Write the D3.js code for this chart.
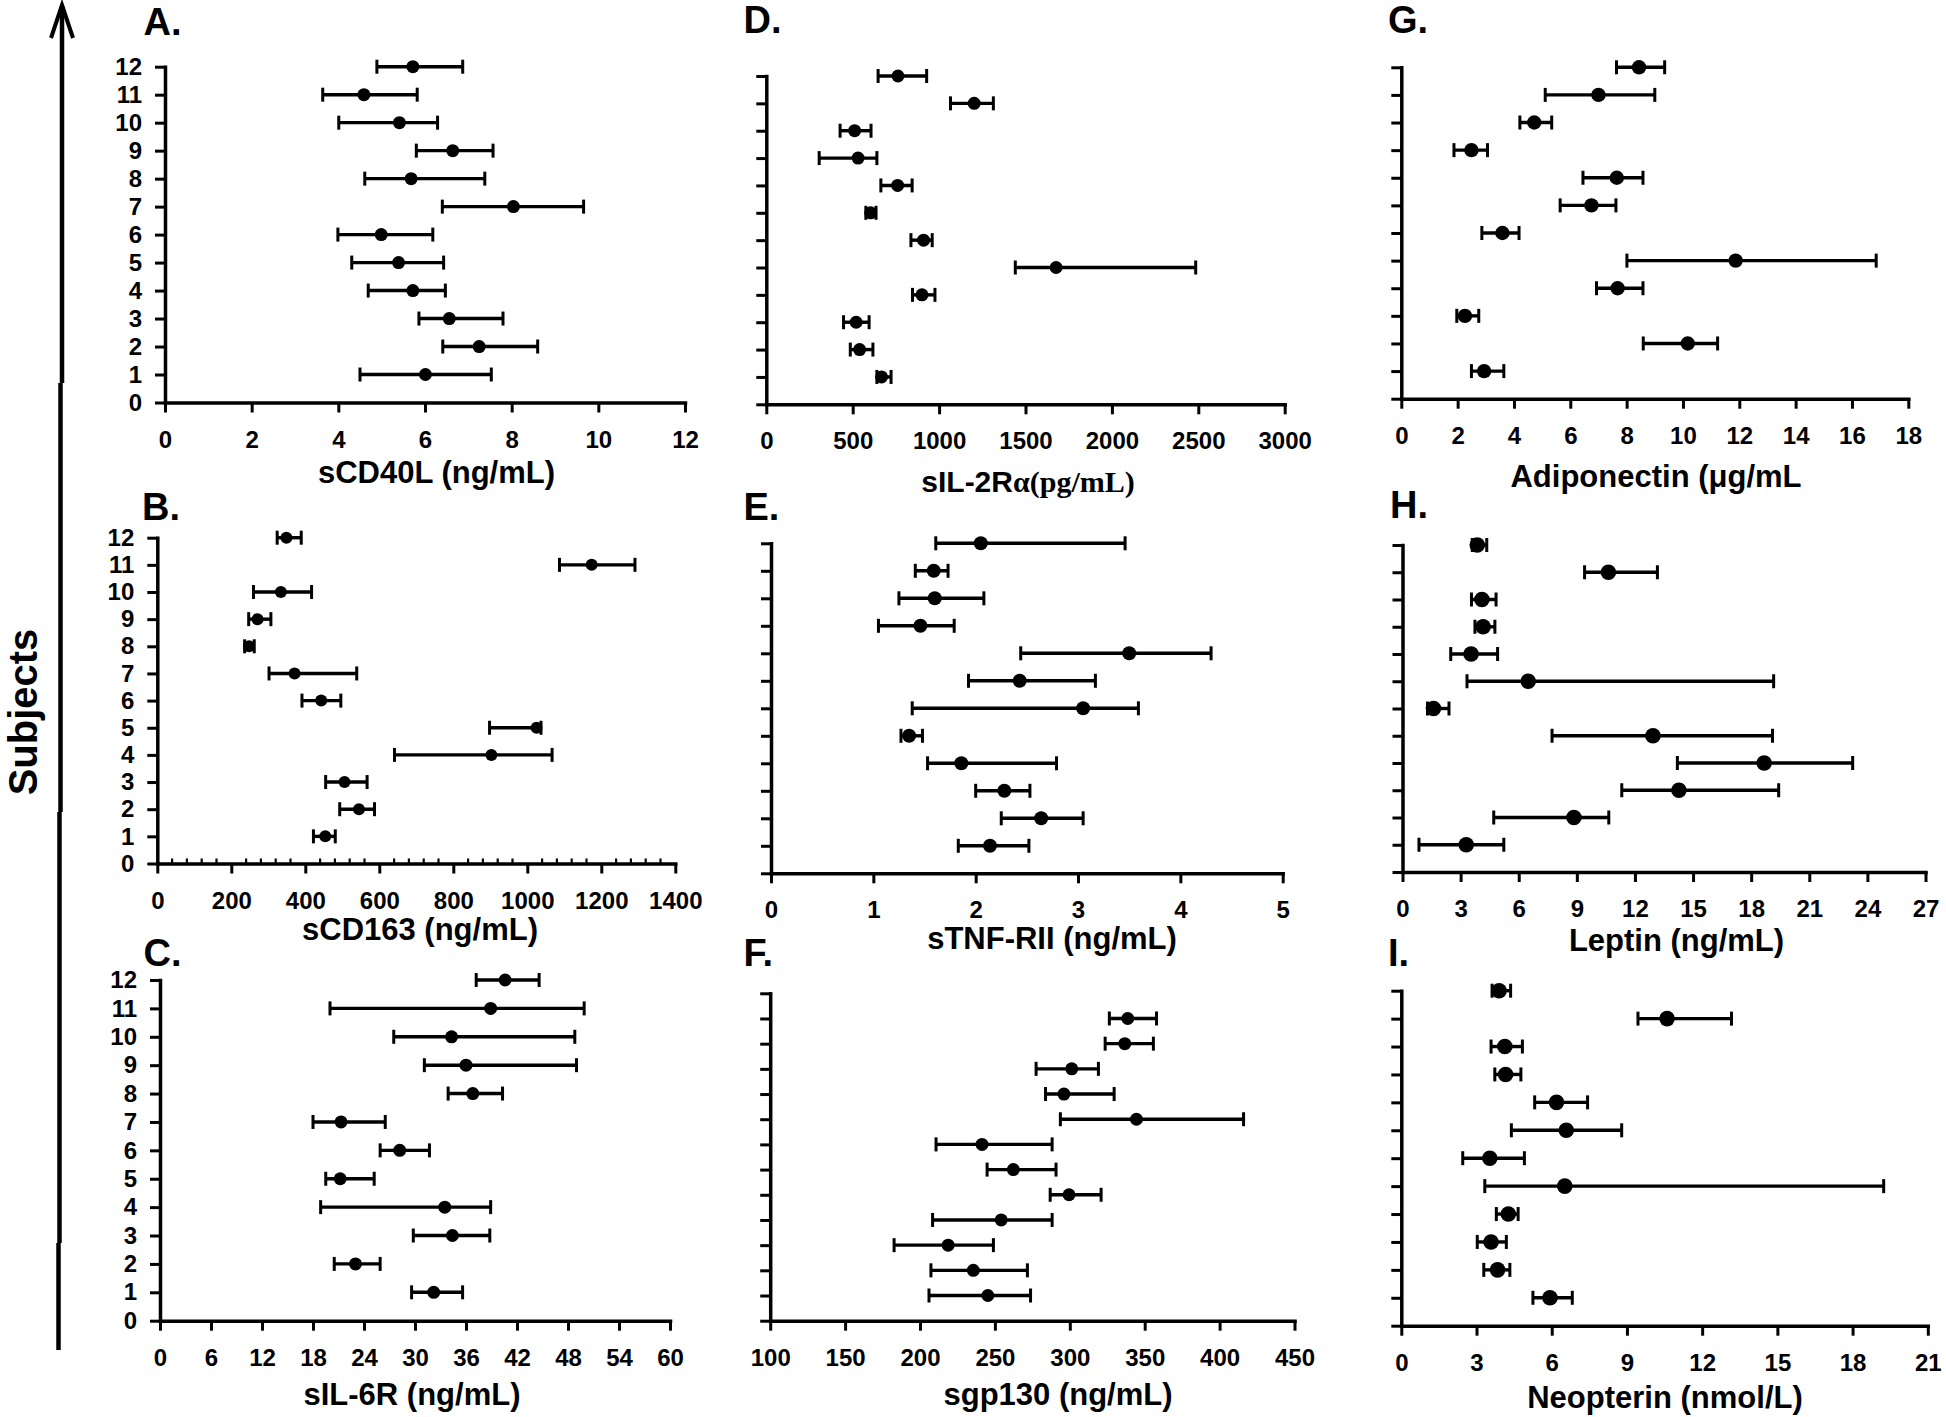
<!DOCTYPE html>
<html>
<head>
<meta charset="utf-8">
<script src="https://cdn.jsdelivr.net/npm/d3@7"></script>
<style>
  html, body { margin: 0; padding: 0; background: #fff; }
  svg text { font-family: "Liberation Sans", Arial, sans-serif; font-weight: bold; fill: #000; }
</style>
</head>
<body>
<svg id="chart" width="1946" height="1417"></svg>
<script>
// ---------------- DATA (subjects 1..12) ----------------
const subjects = [1,2,3,4,5,6,7,8,9,10,11,12];

const sCD40L_mean = [6.01, 7.25, 6.56, 5.72, 5.39, 4.99, 8.04, 5.68, 6.64, 5.41, 4.59, 5.72];
const sCD40L_lo   = [4.50, 6.41, 5.86, 4.69, 4.31, 3.99, 6.40, 4.61, 5.80, 4.01, 3.64, 4.89];
const sCD40L_hi   = [7.53, 8.60, 7.80, 6.47, 6.43, 6.18, 9.66, 7.38, 7.57, 6.29, 5.82, 6.87];

const sCD163_mean = [454, 545, 506, 903, 1025, 443, 371, 248, 271, 334, 1174, 349];
const sCD163_lo   = [422, 493, 455, 641,  898, 391, 302, 236, 247, 260, 1087, 324];
const sCD163_hi   = [481, 587, 567, 1067, 1037, 496, 539, 262, 307, 417, 1291, 389];

const sIL6R_mean = [32.2, 23.0, 34.4, 33.5, 21.2, 28.2, 21.3, 36.8, 36.0, 34.3, 38.9, 40.6];
const sIL6R_lo   = [29.6, 20.5, 29.8, 18.9, 19.5, 25.9, 18.0, 33.9, 31.1, 27.5, 20.0, 37.2];
const sIL6R_hi   = [35.6, 25.9, 38.8, 38.9, 25.2, 31.7, 26.5, 40.3, 49.0, 48.8, 49.9, 44.6];

const sIL2Ra_mean = [667, 540, 520, 901, 1677, 910, 604, 760, 531, 511, 1203, 762];
const sIL2Ra_lo   = [640, 486, 447, 846, 1441, 837, 576, 663, 306, 427, 1066, 647];
const sIL2Ra_hi   = [722, 617, 595, 976, 2485, 960, 635, 844, 640, 606, 1314, 928];

const sTNFRII_mean = [2.14, 2.64, 2.28, 1.86, 1.35, 3.05, 2.43, 3.50, 1.46, 1.60, 1.59, 2.05];
const sTNFRII_lo   = [1.83, 2.25, 2.00, 1.53, 1.27, 1.38, 1.93, 2.44, 1.05, 1.25, 1.41, 1.61];
const sTNFRII_hi   = [2.52, 3.05, 2.53, 2.79, 1.48, 3.59, 3.17, 4.30, 1.79, 2.08, 1.73, 3.46];

const sgp130_mean = [245.3, 235.6, 218.8, 254.2, 299.5, 262.3, 241.4, 344.5, 296.1, 301.3, 336.7, 338.7];
const sgp130_lo   = [206.0, 207.3, 182.7, 208.4, 286.9, 244.8, 210.7, 293.7, 283.8, 277.5, 323.6, 326.4];
const sgp130_hi   = [273.8, 271.7, 249.0, 288.2, 320.9, 290.8, 288.2, 416.0, 329.6, 319.1, 355.8, 357.9];

const adipo_mean = [2.94, 10.17, 2.26, 7.68, 11.87, 3.59, 6.75, 7.65, 2.49, 4.72, 7.00, 8.44];
const adipo_lo   = [2.49,  8.59, 1.97, 6.93,  8.01, 2.86, 5.64, 6.45, 1.87, 4.21, 5.11, 7.64];
const adipo_hi   = [3.64, 11.23, 2.75, 8.58, 16.86, 4.18, 7.62, 8.58, 3.06, 5.34, 9.00, 9.35];

const leptin_mean = [3.29, 8.85, 14.27, 18.67, 12.93, 1.60, 6.49, 3.54, 4.16, 4.10, 10.63, 3.86];
const leptin_lo   = [0.85, 4.71, 11.32, 14.19,  7.72, 1.29, 3.33, 2.49, 3.74, 3.56,  9.40, 3.60];
const leptin_hi   = [5.23, 10.65, 19.42, 23.24, 19.10, 2.40, 19.16, 4.91, 4.77, 4.83, 13.16, 4.35];

const neop_mean = [5.93, 3.84, 3.58, 4.27, 6.52, 3.53, 6.58, 6.19, 4.16, 4.13, 10.60, 3.90];
const neop_lo   = [5.25, 3.29, 3.03, 3.79, 3.33, 2.45, 4.39, 5.32, 3.73, 3.58,  9.44, 3.62];
const neop_hi   = [6.82, 4.33, 4.19, 4.66, 19.24, 4.91, 8.79, 7.43, 4.77, 4.83, 13.17, 4.36];

// tick labels
const ticksA = [0,2,4,6,8,10,12];
const ticksB = [0,200,400,600,800,1000,1200,1400];
const ticksC = [0,6,12,18,24,30,36,42,48,54,60];
const ticksD = [0,500,1000,1500,2000,2500,3000];
const ticksE = [0,1,2,3,4,5];
const ticksF = [100,150,200,250,300,350,400,450];
const ticksG = [0,2,4,6,8,10,12,14,16,18];
const ticksH = [0,3,6,9,12,15,18,21,24,27];
const ticksI = [0,3,6,9,12,15,18,21];

const letters = ["A.","B.","C.","D.","E.","F.","G.","H.","I."];
const axisTitles = ["sCD40L (ng/mL)","sCD163 (ng/mL)","sIL-6R (ng/mL)",null,"sTNF-RII (ng/mL)","sgp130 (ng/mL)","Adiponectin (\u03bcg/mL","Leptin (ng/mL)","Neopterin (nmol/L)"];

// ---------------- LAYOUT ----------------
const panels = [
  {mean:sCD40L_mean, lo:sCD40L_lo, hi:sCD40L_hi, ticks:ticksA, xr:[165,685],      yr:[402.5,66.7],  yMax:12, yLab:true,  r:6.5, lx:143.5, ly:35,  tx:436.5, ty:483},
  {mean:sCD163_mean, lo:sCD163_lo, hi:sCD163_hi, ticks:ticksB, xr:[157.3,675.3],  yr:[863.5,537.7], yMax:12, yLab:true,  r:6.0, lx:142,   ly:520, tx:420,   ty:940, minor:40},
  {mean:sIL6R_mean,  lo:sIL6R_lo,  hi:sIL6R_hi,  ticks:ticksC, xr:[160,670],      yr:[1320.7,980],  yMax:12, yLab:true,  r:6.5, lx:143.5, ly:966, tx:412,   ty:1405},
  {mean:sIL2Ra_mean, lo:sIL2Ra_lo, hi:sIL2Ra_hi, ticks:ticksD, xr:[766.3,1284.7], yr:[404.3,76],    yMax:12, yLab:false, r:6.5, lx:743.5, ly:33,  tx:1028,  ty:492},
  {mean:sTNFRII_mean,lo:sTNFRII_lo,hi:sTNFRII_hi,ticks:ticksE, xr:[771,1282.7],   yr:[873.3,543.3], yMax:12, yLab:false, r:7.0, lx:743.5, ly:520, tx:1052,  ty:949},
  {mean:sgp130_mean, lo:sgp130_lo, hi:sgp130_hi, ticks:ticksF, xr:[770.2,1294.5], yr:[1320.7,993.3],yMax:13, yLab:false, r:6.5, lx:743.5, ly:966, tx:1058,  ty:1405},
  {mean:adipo_mean,  lo:adipo_lo,  hi:adipo_hi,  ticks:ticksG, xr:[1401.3,1908.3],yr:[398.7,67.3],  yMax:12, yLab:false, r:7.2, lx:1388,  ly:33,  tx:1656,  ty:487},
  {mean:leptin_mean, lo:leptin_lo, hi:leptin_hi, ticks:ticksH, xr:[1402.5,1925.5],yr:[872,545],     yMax:12, yLab:false, r:7.8, lx:1390,  ly:518, tx:1676.5,ty:951},
  {mean:neop_mean,   lo:neop_lo,   hi:neop_hi,   ticks:ticksI, xr:[1401.3,1927.8],yr:[1325.7,990.7],yMax:12, yLab:false, r:7.8, lx:1388,  ly:966, tx:1665,  ty:1408}
];

const svg = d3.select("#chart");

panels.forEach((p, i) => {
  const x = d3.scaleLinear().domain([p.ticks[0], p.ticks[p.ticks.length-1]]).range(p.xr);
  const y = d3.scaleLinear().domain([0, p.yMax]).range(p.yr);
  const g = svg.append("g");

  // x axis
  const gx = g.append("g").attr("transform", `translate(0,${y(0)})`)
    .call(d3.axisBottom(x).tickValues(p.ticks).tickSize(10).tickSizeOuter(0).tickPadding(18).tickFormat(d3.format("d")));
  // y axis
  const gy = g.append("g").attr("transform", `translate(${x.range()[0]},0)`)
    .call(d3.axisLeft(y).tickValues(d3.range(0, p.yMax + 1)).tickSize(10).tickSizeOuter(0).tickPadding(13)
      .tickFormat(p.yLab ? d3.format("d") : () => ""));

  [gx, gy].forEach(a => {
    a.select(".domain").attr("stroke", "#000").attr("stroke-width", 3.5).attr("stroke-linecap", "square");
    a.selectAll(".tick line").attr("stroke", "#000").attr("stroke-width", 3);
    a.selectAll(".tick text").attr("font-size", 24).attr("font-family", "Liberation Sans, Arial, sans-serif").attr("font-weight", "bold").attr("fill", "#000");
  });

  // minor ticks (panel B)
  if (p.minor) {
    const minorVals = d3.range(p.ticks[0], p.ticks[p.ticks.length-1] + 1, p.minor).filter(v => !p.ticks.includes(v));
    g.append("g").selectAll("line").data(minorVals).join("line")
      .attr("x1", d => x(d)).attr("x2", d => x(d))
      .attr("y1", y(0)).attr("y2", y(0) - 5)
      .attr("stroke", "#000").attr("stroke-width", 2.2);
  }

  // error bars
  const rowsData = subjects.map((s, k) => ({s, m: p.mean[k], lo: p.lo[k], hi: p.hi[k]}));
  const eb = g.append("g").selectAll("g").data(rowsData).join("g");
  eb.append("line").attr("x1", d => x(d.lo)).attr("x2", d => x(d.hi))
    .attr("y1", d => y(d.s)).attr("y2", d => y(d.s)).attr("stroke", "#000").attr("stroke-width", 3.4);
  eb.append("line").attr("x1", d => x(d.lo)).attr("x2", d => x(d.lo))
    .attr("y1", d => y(d.s) - 7).attr("y2", d => y(d.s) + 7).attr("stroke", "#000").attr("stroke-width", 3);
  eb.append("line").attr("x1", d => x(d.hi)).attr("x2", d => x(d.hi))
    .attr("y1", d => y(d.s) - 7).attr("y2", d => y(d.s) + 7).attr("stroke", "#000").attr("stroke-width", 3);
  eb.append("circle").attr("cx", d => x(d.m)).attr("cy", d => y(d.s)).attr("r", p.r).attr("fill", "#000");

  // panel letter
  g.append("text").attr("x", p.lx).attr("y", p.ly).attr("font-size", 38).text(letters[i]);

  // axis title
  if (axisTitles[i] !== null) {
    g.append("text").attr("x", p.tx).attr("y", p.ty).attr("text-anchor", "middle").attr("font-size", 31).text(axisTitles[i]);
  } else {
    const t = g.append("text").attr("x", p.tx).attr("y", p.ty).attr("text-anchor", "middle").attr("font-size", 30);
    t.append("tspan").text("sIL-2R");
    t.append("tspan").attr("font-family", "Liberation Serif, 'Times New Roman', serif").text("\u03b1(pg/mL)");
  }
});

// ---------------- Subjects arrow ----------------
const arrow = svg.append("g").attr("stroke", "#000").attr("fill", "none");
const shaft = [[62, 6, 383], [60.5, 383, 812], [59.5, 812, 1243], [58.5, 1243, 1350]];
shaft.forEach(([sx, y1, y2]) => arrow.append("line").attr("x1", sx).attr("x2", sx).attr("y1", y1).attr("y2", y2).attr("stroke-width", 4.5));
arrow.append("path").attr("d", "M51,38 L62,5 L73,38").attr("stroke-width", 4).attr("stroke-linejoin", "miter");

svg.append("text").attr("transform", "translate(37,712) rotate(-90)")
  .attr("text-anchor", "middle").attr("font-size", 40).text("Subjects");
</script>
</body>
</html>
